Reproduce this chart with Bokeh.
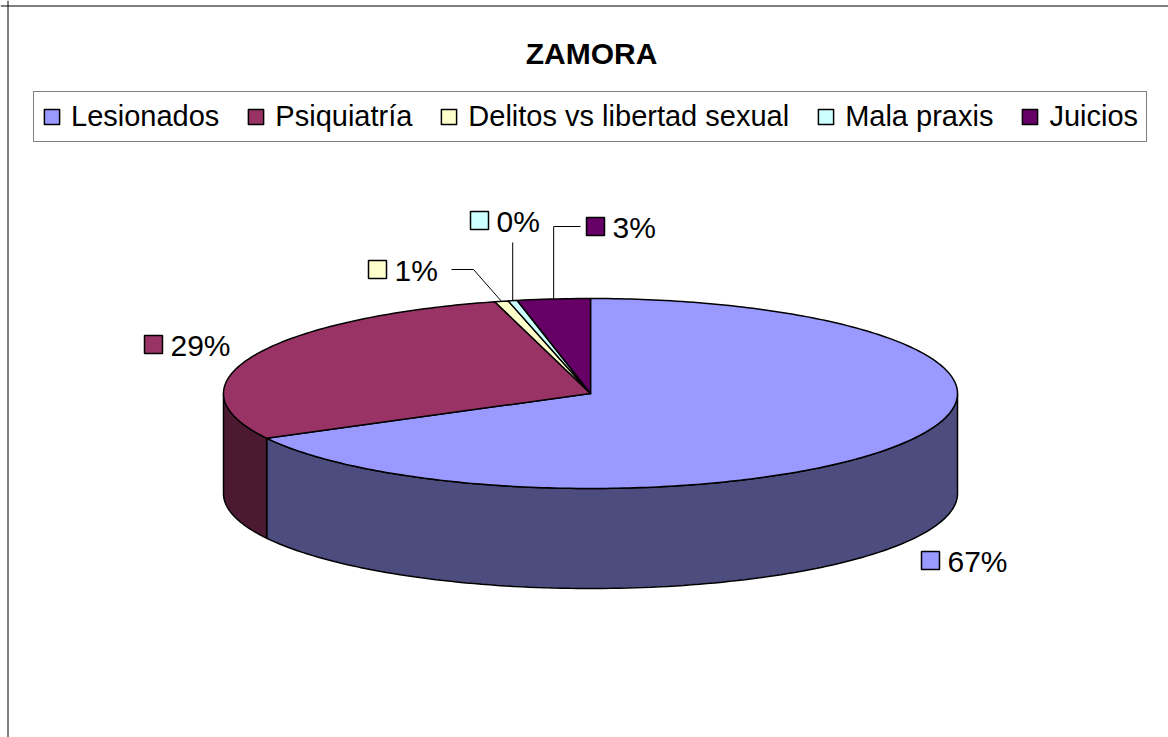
import numpy as np
from bokeh.plotting import figure
from bokeh.models import Range1d, Legend, LegendItem, Span, ColumnDataSource
from bokeh.core.properties import value
from bokeh.embed import file_html
from bokeh.resources import INLINE

# ---------------- data ----------------
title = "ZAMORA"
categories = ["Lesionados", "Psiquiatría", "Delitos vs libertad sexual", "Mala praxis", "Juicios"]
values = [67.2, 28.6, 0.6, 0.4, 3.2]
top_colors = ["#9999FF", "#993366", "#FFFFCC", "#CCFFFF", "#660066"]

# ---------------- layout (page pixel coordinates) ----------------
W, H = 1168, 737
X0, Y0 = 0, 0                    # data coords == page pixels
CX, CY, RX, RY, DEPTH = 590, 393, 367, 95, 100
FONT = "Liberation Sans"
# label key centres and leader elbows (layout only)
label_keys = [(930, 560), (153, 344), (377, 269), (479, 220), (595, 226)]
leader_elbows = [None, None, [(473, 269), (451, 269)], [("a", 242)], [("a", 226), (580, 226)]]


def darken(hexcol, f=0.5):
    h = hexcol.lstrip("#")
    r, g, b = (int(h[i:i + 2], 16) for i in (0, 2, 4))
    return "#%02x%02x%02x" % (int(r * f), int(g * f), int(b * f))


def ell(phi, dz=0.0):
    return CX + RX * np.sin(phi), CY - RY * np.cos(phi) + dz


total = float(sum(values))
fr = np.array(values) / total
ends = np.cumsum(fr) * 2 * np.pi
starts = ends - fr * 2 * np.pi

p = figure(width=W, height=H, output_backend="svg", toolbar_location=None,
           x_range=Range1d(X0, X0 + W), y_range=Range1d(Y0 + H, Y0),
           x_axis_location=None, y_axis_location=None, min_border=0)
p.grid.visible = False
p.outline_line_color = None
p.background_fill_color = "white"
p.border_fill_color = "white"

# chart border (left and top edges visible in the reference)
p.add_layout(Span(location=7.5, dimension="height", line_color="black", line_width=1))
p.add_layout(Span(location=5.5, dimension="width", line_color="black", line_width=1))

# ---------------- side walls ----------------
sx, sy, sc = [], [], []
for a, b, col in zip(starts, ends, top_colors):
    lo, hi = max(a, np.pi / 2), min(b, 3 * np.pi / 2)
    if hi <= lo:
        continue
    t = np.linspace(lo, hi, 120)
    xt, yt = ell(t)
    xb, yb = ell(t[::-1], DEPTH)
    sx.append(np.concatenate([xt, xb]).tolist())
    sy.append(np.concatenate([yt, yb]).tolist())
    sc.append(darken(col))
p.patches(sx, sy, fill_color=sc, line_color="black", line_width=1.5)

# ---------------- top faces ----------------
tx, ty = [], []
for a, b in zip(starts, ends):
    n = max(4, int(400 * (b - a) / (2 * np.pi)))
    t = np.linspace(a, b, n)
    xe, ye = ell(t)
    tx.append([CX] + xe.tolist())
    ty.append([CY] + ye.tolist())
top_src = ColumnDataSource(dict(xs=tx, ys=ty, color=top_colors, name=categories))
top_r = p.patches("xs", "ys", source=top_src, fill_color="color", line_color="black",
                  line_width=1.5, line_join="round")

# ---------------- data labels ----------------
pct = [f"{round(v / total * 100):.0f}%" for v in values]
mids = (starts + ends) / 2
lx, ly = [], []
for i, el in enumerate(leader_elbows):
    if el is None:
        continue
    ax, ay = ell(mids[i])
    xs, ys = [ax], [ay]
    for ex, ey in el:
        xs.append(ax if ex == "a" else ex)
        ys.append(ey)
    lx.append(xs)
    ly.append(ys)
p.multi_line(lx, ly, line_color="black", line_width=1)

kx = [k[0] for k in label_keys]
ky = [k[1] for k in label_keys]
p.scatter(kx, ky, marker="square", size=18, fill_color=top_colors, line_color="black", line_width=1.5)
p.text([x + 17 for x in kx], [y + 1 for y in ky], text=pct, text_font=value(FONT),
       text_font_size="30px", text_baseline="middle", text_align="left", text_color="black")

# ---------------- title ----------------
p.text([591], [53], text=[title], text_font=value(FONT), text_font_size="30px",
       text_font_style="bold", text_align="center", text_baseline="alphabetic", text_color="black")

# ---------------- legend ----------------
items = [LegendItem(label=c, renderers=[top_r], index=i) for i, c in enumerate(categories)]
legend = Legend(items=items, orientation="horizontal", location=(33 - X0, H - (142 - Y0)),
                label_text_font=FONT, label_text_font_size="29px", label_text_color="black",
                label_standoff=10, glyph_width=19, glyph_height=19, spacing=27, padding=8, margin=0,
                border_line_color="black", border_line_width=1, background_fill_color="white",
                background_fill_alpha=1.0)
p.add_layout(legend)

open("out.html", "w").write(file_html(p, INLINE))
